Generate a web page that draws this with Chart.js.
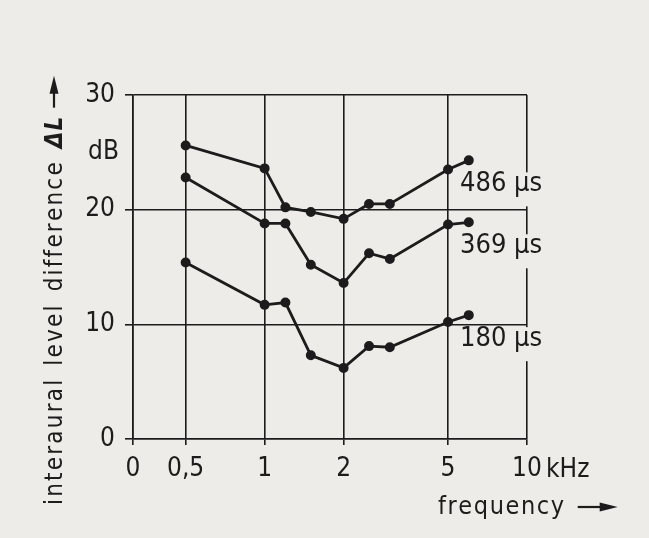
<!DOCTYPE html>
<html>
<head>
<meta charset="utf-8">
<script src="https://cdn.jsdelivr.net/npm/chart.js@4.4.1/dist/chart.umd.min.js"></script>
<style>
  html, body { margin: 0; padding: 0; background: #edece8; }
  #wrap { width: 649px; height: 538px; }
</style>
</head>
<body>
<div id="wrap"><canvas id="chart" width="649" height="538"></canvas></div>
<script>
// frequencies in kHz
const frequencies = [0.5, 1, 1.2, 1.5, 2, 2.5, 3, 5, 6];
const seriesLabels = ['486 µs', '369 µs', '180 µs'];
const level486 = [25.6, 23.6, 20.2, 19.8, 19.2, 20.5, 20.5, 23.5, 24.3];
const level369 = [22.8, 18.8, 18.8, 15.2, 13.6, 16.2, 15.7, 18.7, 18.9];
const level180 = [15.4, 11.7, 11.9, 7.3, 6.2, 8.1, 8.0, 10.2, 10.8];
// the "0" on the frequency axis sits at the broken start of the log axis
const xTickValues = [0.315, 0.5, 1, 2, 5, 10];
const xTickLabels = ['0', '0,5', '1', '2', '5', '10'];
const yTickStep = 10;

const INK = '#1c1c1c';
const PAPER = '#edece8';
const FONT = '"DejaVu Sans Condensed", "DejaVu Sans", sans-serif';

const toPoints = levels => levels.map((v, i) => ({ x: frequencies[i], y: v }));

// draws text one glyph at a time so the spacing can be widened like the print
function spacedText(ctx, text, x, y, spacing) {
  for (const ch of text) {
    ctx.fillText(ch, x, y);
    x += ctx.measureText(ch).width + spacing;
  }
  return x;
}

function arrow(ctx, x, y, len) {
  ctx.beginPath();
  ctx.moveTo(x, y);
  ctx.lineTo(x + len - 14, y);
  ctx.lineWidth = 2.2;
  ctx.strokeStyle = INK;
  ctx.stroke();
  ctx.beginPath();
  ctx.moveTo(x + len, y);
  ctx.lineTo(x + len - 18, y - 4.5);
  ctx.lineTo(x + len - 18, y + 4.5);
  ctx.closePath();
  ctx.fill();
}

const annotations = {
  id: 'annotations',
  afterDraw(chart) {
    const { ctx } = chart;
    const xs = chart.scales.x, ys = chart.scales.y;
    ctx.save();
    ctx.fillStyle = INK;

    // curve labels, on a paper patch that hides the right frame line
    ctx.font = '27px ' + FONT;
    ctx.textBaseline = 'middle';
    ctx.textAlign = 'left';
    chart.data.datasets.forEach(ds => {
      const last = ds.data[ds.data.length - 1];
      const cy = ys.getPixelForValue(last.y) + 24;
      const lx = xs.getPixelForValue(5) + 12;
      const w = ctx.measureText(ds.label).width;
      ctx.fillStyle = PAPER;
      ctx.fillRect(lx - 3, cy - 12, w + 6, 34);
      ctx.fillStyle = INK;
      ctx.fillText(ds.label, lx, cy);
    });

    // unit labels
    ctx.font = '26px ' + FONT;
    ctx.textAlign = 'right';
    ctx.fillText('dB', ys.right - 14, ys.getPixelForValue(25));
    ctx.textAlign = 'left';
    ctx.fillText('kHz', xs.getPixelForValue(10) + 19, xs.top + 31);

    // x title
    ctx.textBaseline = 'alphabetic';
    ctx.font = '25px ' + FONT;
    const end = spacedText(ctx, 'frequency', 438, 514, 1.6);
    arrow(ctx, end + 12, 507, 40);

    // y title, rotated
    ctx.translate(62, 505);
    ctx.rotate(-Math.PI / 2);
    ctx.font = '24px ' + FONT;
    let p = spacedText(ctx, 'interaural', 0, 0, 2.2);
    p = spacedText(ctx, 'level', p + 12, 0, 2.2);
    p = spacedText(ctx, 'difference', p + 12, 0, 2.2);
    ctx.font = 'italic bold 24px ' + FONT;
    p = spacedText(ctx, 'ΔL', p + 12, 0, 1);
    arrow(ctx, p + 8, -8, 32);
    ctx.restore();
  }
};

new Chart(document.getElementById('chart'), {
  type: 'line',
  data: {
    datasets: [level486, level369, level180].map((levels, i) => ({
      label: seriesLabels[i],
      data: toPoints(levels),
      borderColor: INK,
      backgroundColor: INK,
      borderWidth: 2.8,
      pointRadius: 3.6,
      pointHoverRadius: 3.6,
      tension: 0
    }))
  },
  options: {
    responsive: false,
    animation: false,
    devicePixelRatio: 1,
    layout: { padding: { left: 0, top: 95, right: 122, bottom: 0 } },
    plugins: { legend: { display: false }, tooltip: { enabled: false } },
    scales: {
      x: {
        type: 'logarithmic',
        bounds: 'data',
        min: xTickValues[0],
        max: xTickValues[xTickValues.length - 1],
        afterBuildTicks: scale => {
          scale.ticks = xTickValues.map(v => ({ value: v }));
          scale.min = xTickValues[0];
          scale.max = xTickValues[xTickValues.length - 1];
        },
        afterFit: scale => {
          scale.height = 99;
          scale.paddingLeft = 0;
          scale.paddingRight = 0;
        },
        ticks: {
          autoSkip: false,
          maxRotation: 0,
          padding: 9,
          color: INK,
          font: { family: FONT, size: 26 },
          callback: (v, i) => xTickLabels[i]
        },
        grid: { color: INK, lineWidth: 1.6, tickLength: 6 },
        border: { color: INK, width: 1.6 }
      },
      y: {
        min: 0,
        max: 30,
        afterFit: scale => {
          scale.width = 133;
          scale.paddingTop = 0;
          scale.paddingBottom = 0;
        },
        ticks: {
          stepSize: yTickStep,
          padding: 10,
          color: INK,
          font: { family: FONT, size: 26 }
        },
        grid: { color: INK, lineWidth: 1.6, tickLength: 8 },
        border: { color: INK, width: 1.6 }
      }
    }
  },
  plugins: [annotations]
});
</script>
</body>
</html>
